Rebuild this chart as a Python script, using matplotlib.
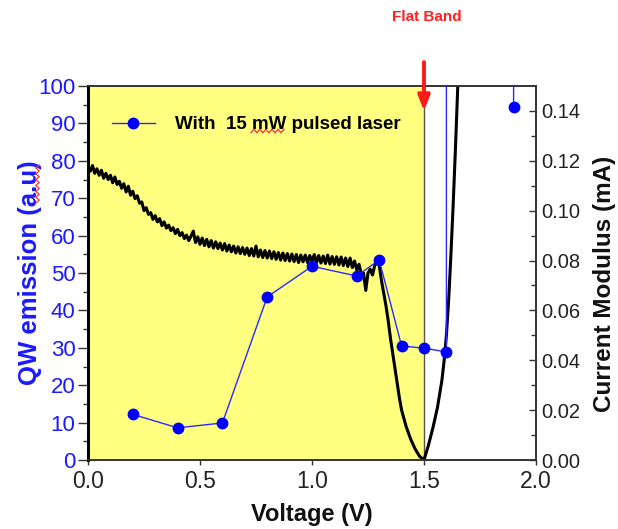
import matplotlib
matplotlib.use("Agg")
import matplotlib.pyplot as plt
import numpy as np

plt.rcParams['font.family'] = ['Liberation Sans', 'DejaVu Sans']

# ---- data ----
volt_pl = [0.2, 0.4, 0.6, 0.8, 1.0, 1.2, 1.3, 1.4, 1.5, 1.6, 1.6, 1.9, 1.9]
qw_emission = [12.2, 8.6, 9.9, 43.6, 51.8, 49.2, 53.5, 30.5, 29.9, 28.9, 300, 300, 94.3]

volt_noisy = [round(0.01 * i, 2) for i in range(131)]
current_noisy = [
    0.1172, 0.1158, 0.1181, 0.1150, 0.1168, 0.1142, 0.1162, 0.1130, 0.1150, 0.1125,
    0.1142, 0.1112, 0.1135, 0.1105, 0.1118, 0.1090, 0.1108, 0.1075, 0.1098, 0.1062,
    0.1078, 0.1048, 0.1060, 0.1030, 0.1035, 0.1000, 0.1012, 0.0985, 0.0992, 0.0965,
    0.0980, 0.0955, 0.0968, 0.0940, 0.0955, 0.0930, 0.0942, 0.0920, 0.0932, 0.0908,
    0.0925, 0.0900, 0.0912, 0.0888, 0.0902, 0.0880, 0.0898, 0.0918, 0.0872, 0.0895,
    0.0865, 0.0890, 0.0860, 0.0885, 0.0855, 0.0880, 0.0850, 0.0875, 0.0848, 0.0870,
    0.0842, 0.0868, 0.0838, 0.0862, 0.0835, 0.0858, 0.0830, 0.0855, 0.0828, 0.0852,
    0.0825, 0.0850, 0.0820, 0.0848, 0.0818, 0.0858, 0.0815, 0.0842, 0.0812, 0.0840,
    0.0810, 0.0838, 0.0808, 0.0835, 0.0805, 0.0832, 0.0802, 0.0830, 0.0800, 0.0828,
    0.0798, 0.0826, 0.0796, 0.0824, 0.0792, 0.0822, 0.0795, 0.0822, 0.0792, 0.0820,
    0.0796, 0.0824, 0.0792, 0.0820, 0.0790, 0.0818, 0.0788, 0.0822, 0.0786, 0.0816,
    0.0785, 0.0815, 0.0782, 0.0814, 0.0780, 0.0810, 0.0776, 0.0810, 0.0772, 0.0798,
    0.0762, 0.0785, 0.0745, 0.0750, 0.0680, 0.0750, 0.0765, 0.0742, 0.0780, 0.0800,
    0.0782,
]
volt_smooth = [1.31, 1.32, 1.33, 1.34, 1.35, 1.36, 1.37, 1.38, 1.39, 1.40, 1.42, 1.44,
               1.46, 1.48, 1.50, 1.52, 1.54, 1.56, 1.58, 1.59, 1.60, 1.61, 1.62, 1.63,
               1.64, 1.65, 1.66]
current_smooth = [0.072, 0.067, 0.062, 0.056, 0.049, 0.043, 0.037, 0.031, 0.025, 0.020,
                  0.0135, 0.0085, 0.0045, 0.0015, 0.0, 0.006, 0.013, 0.021, 0.032, 0.040,
                  0.050, 0.064, 0.082, 0.102, 0.124, 0.148, 0.175]

volt_current = volt_noisy + volt_smooth
current = current_noisy + current_smooth

flat_band_v = 1.5
legend_label = "With  15 mW pulsed laser"

# ---- figure ----
W, H = 618, 529
fig = plt.figure(figsize=(W / 100, H / 100), dpi=100)
ax2 = fig.add_axes([88 / W, (H - 460) / H, (536 - 88) / W, (460 - 86) / H])
ax = ax2.twinx()  # ax (left, QW emission) drawn on top
ax.yaxis.set_label_position('left')
ax.yaxis.tick_left()
ax2.yaxis.set_label_position('right')
ax2.yaxis.tick_right()
ax.patch.set_visible(False)

ax2.set_xlim(0, 2.0)
ax.set_ylim(0, 100)
ax2.set_ylim(0, 0.15)

ax2.axvspan(0, flat_band_v, color='#ffff80', zorder=0, lw=0)
ax2.axvline(flat_band_v, color='#555555', lw=1.0, zorder=1)

ax2.plot(volt_current, current, color='black', lw=2.2, zorder=3)
ax.plot(volt_pl, qw_emission, color='#2a2aff', lw=1.0, marker='o', ms=7.5,
        markerfacecolor='#0000ff', markeredgecolor='#0000ff', label=legend_label,
        zorder=4)

# ticks
ax2.set_xticks([0.0, 0.5, 1.0, 1.5, 2.0])
ax2.set_xticklabels(['0.0', '0.5', '1.0', '1.5', '2.0'])
ax2.tick_params(axis='x', which='major', direction='out', length=3.5, width=1,
                labelsize=16.5, labelcolor='#222222', color='#333333', pad=4)
ax.set_yticks(range(0, 101, 10))
ax.set_yticks(range(5, 100, 10), minor=True)
ax.tick_params(axis='y', which='major', direction='out', length=7.5, width=1,
               labelsize=16, labelcolor='#1a1aff', color='#333333', pad=1.5)
ax.tick_params(axis='y', which='minor', direction='out', length=3.5, width=1, color='#333333')
ax2.set_yticks([0.0, 0.02, 0.04, 0.06, 0.08, 0.10, 0.12, 0.14])
ax2.set_yticklabels(['0.00', '0.02', '0.04', '0.06', '0.08', '0.10', '0.12', '0.14'])
ax2.set_yticks([0.01, 0.03, 0.05, 0.07, 0.09, 0.11, 0.13], minor=True)
ax2.tick_params(axis='y', which='major', direction='in', length=5, width=1,
                labelsize=14.5, labelcolor='#222222', color='#333333', pad=4)
ax2.tick_params(axis='y', which='minor', direction='in', length=3.5, width=1, color='#333333')

for a in (ax, ax2):
    for s in a.spines.values():
        s.set_color('#333333')
        s.set_linewidth(1.2)
    a.spines['left'].set_color('black')
    a.spines['left'].set_linewidth(2.0)

ax2.set_xlabel('Voltage (V)', fontsize=17, fontweight='bold', color='#111111', labelpad=7)
ax.set_ylabel('QW emission (a.u)', fontsize=18.5, fontweight='bold', color='#1a1aff',
              labelpad=-2.5)
ax2.set_ylabel('Current Modulus (mA)', fontsize=17.5, fontweight='bold', color='#111111',
               labelpad=9)
ax2.yaxis.label.set_y(0.47)

leg = ax.legend(loc='upper left', bbox_to_anchor=(0.015, 0.965), frameon=False,
                prop={'weight': 'bold', 'size': 13.5}, handlelength=2.3, handletextpad=1.1)

# Flat band annotation
fig.text(427 / W, 1 - 17 / H, 'Flat Band', color='#ff2020', fontsize=11,
         fontweight='bold', ha='center', va='center')
ax.annotate('', xy=(flat_band_v, 93.3), xycoords='data',
            xytext=(flat_band_v, 106.4), textcoords='data',
            arrowprops=dict(arrowstyle='-|>,head_length=0.9,head_width=0.35',
                            color='#ff1a1a', lw=2.8, shrinkA=0, shrinkB=0),
            annotation_clip=False, zorder=10)

# spell-check squiggles (present in the original picture)
def squiggle(p0, p1, c, vertical=False, period=6.0, amp=1.8):
    length = abs(p1 - p0)
    n = max(2, int(round(2 * length / period)))
    t = np.linspace(0, 1, n + 1)
    off = np.array([(-1) ** i for i in range(n + 1)]) * amp
    along = p0 + (p1 - p0) * t
    if vertical:
        xs, ys = c + off, along
    else:
        xs, ys = along, c + off
    fig.add_artist(plt.Line2D(xs / W, 1 - ys / H, color='#ff3030', lw=0.9,
                              transform=fig.transFigure))

squiggle(251, 284, 131)
squiggle(165, 203, 37.5, vertical=True)

fig.savefig('out.png', dpi=100)
